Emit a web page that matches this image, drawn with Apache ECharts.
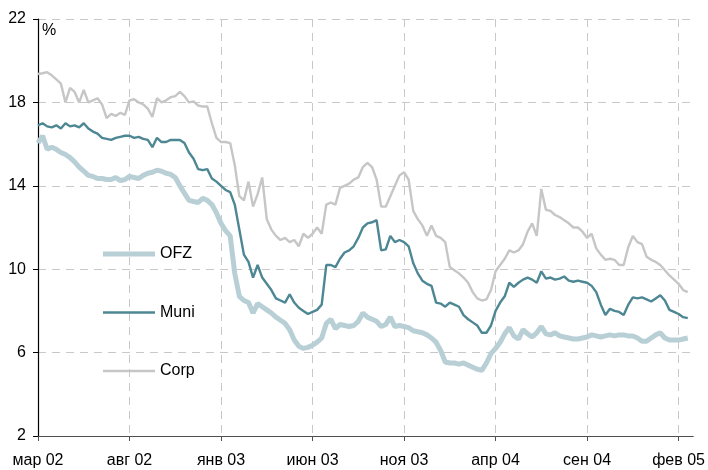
<!DOCTYPE html>
<html>
<head>
<meta charset="utf-8">
<script src="https://cdn.jsdelivr.net/npm/echarts@6/dist/echarts.min.js"></script>
<style>
  html, body { margin: 0; padding: 0; background: #fff; }
  #chart { width: 708px; height: 470px; }
</style>
</head>
<body>
<div id="chart"></div>
<script>
// месяцы от мар 02, шаг 0.25 месяца
const step = 0.25;
const monthLabels = ["мар 02", "авг 02", "янв 03", "июн 03", "ноя 03", "апр 04", "сен 04", "фев 05"];

const ofz = [
  16.05, 16.4, 15.75, 15.85, 15.75, 15.6, 15.5, 15.35, 15.15, 14.9,
  14.7, 14.5, 14.45, 14.35, 14.35, 14.3, 14.3, 14.4, 14.25, 14.3,
  14.45, 14.4, 14.35, 14.5, 14.6, 14.65, 14.75, 14.7, 14.6, 14.55,
  14.4, 14.0, 13.65, 13.3, 13.25, 13.2, 13.4, 13.3, 13.1, 12.7,
  12.2, 11.85, 11.6, 9.8, 8.7, 8.5, 8.4, 7.9, 8.35, 8.2,
  8.05, 7.9, 7.7, 7.55, 7.4, 7.1, 6.6, 6.3, 6.2, 6.25,
  6.35, 6.5, 6.7, 7.4, 7.6, 7.15, 7.35, 7.3, 7.25, 7.3,
  7.5, 7.9, 7.7, 7.6, 7.5, 7.25, 7.35, 7.7, 7.25, 7.3,
  7.25, 7.2, 7.05, 7.0, 6.95, 6.85, 6.7, 6.5, 6.1, 5.55,
  5.5, 5.5, 5.45, 5.5, 5.4, 5.3, 5.2, 5.15, 5.5, 5.95,
  6.2, 6.5, 6.9, 7.2, 6.8, 6.65, 7.1, 6.9, 6.75, 6.95,
  7.25, 6.9, 6.85, 6.95, 6.8, 6.75, 6.7, 6.65, 6.65, 6.7,
  6.75, 6.85, 6.8, 6.75, 6.8, 6.85, 6.8, 6.85, 6.85, 6.8,
  6.8, 6.7, 6.55, 6.55, 6.7, 6.85, 6.95, 6.7, 6.6, 6.6,
  6.6, 6.65, 6.7
];

const muni = [
  16.9, 17.0, 16.85, 16.8, 16.9, 16.75, 17.0, 16.85, 16.9, 16.8,
  17.0, 16.75, 16.6, 16.5, 16.3, 16.25, 16.2, 16.3, 16.35, 16.4,
  16.4, 16.3, 16.35, 16.25, 16.2, 15.85, 16.3, 16.1, 16.1, 16.2,
  16.2, 16.2, 16.05, 15.6, 15.3, 14.8, 14.75, 14.8, 14.35, 14.2,
  14.0, 13.8, 13.7, 13.1, 11.9, 10.7, 10.35, 9.6, 10.2, 9.6,
  9.3, 9.0, 8.6, 8.5, 8.4, 8.8, 8.4, 8.15, 8.0, 7.85,
  7.95, 8.05, 8.3, 10.2, 10.2, 10.1, 10.5, 10.8, 10.9, 11.1,
  11.5, 12.0, 12.2, 12.25, 12.35, 10.9, 10.95, 11.6, 11.3, 11.4,
  11.3, 11.1, 10.3, 9.8, 9.45, 9.3, 9.2, 8.4, 8.35, 8.2,
  8.4, 8.3, 8.2, 7.8, 7.6, 7.45, 7.3, 6.95, 6.95, 7.3,
  8.0, 8.4, 8.7, 9.35, 9.15, 9.35, 9.5, 9.6, 9.5, 9.35,
  9.9, 9.55, 9.6, 9.5, 9.55, 9.65, 9.45, 9.4, 9.45, 9.4,
  9.35, 9.2, 8.9, 8.3, 7.8, 8.1, 8.0, 7.95, 7.8, 8.3,
  8.65, 8.6, 8.65, 8.55, 8.45, 8.6, 8.75, 8.5, 8.05, 7.95,
  7.85, 7.7, 7.65
];

const corp = [
  19.36, 19.4, 19.45, 19.3, 19.1, 18.9, 18.0, 18.7, 18.5, 18.0,
  18.6, 18.0, 18.1, 18.2, 17.9, 17.25, 17.45, 17.35, 17.5, 17.4,
  18.1, 18.15, 18.0, 17.9, 17.7, 17.3, 18.2, 18.0, 18.1, 18.25,
  18.3, 18.5, 18.3, 18.0, 18.05, 17.85, 17.8, 17.8, 17.0, 16.3,
  16.1, 16.1, 16.05, 15.0, 13.5, 13.3, 14.2, 13.0, 13.6, 14.4,
  12.4, 11.9, 11.6, 11.4, 11.5, 11.3, 11.4, 11.1, 11.7, 11.5,
  11.7, 12.0, 11.7, 13.1, 13.2, 13.1, 13.9, 14.0, 14.1, 14.3,
  14.4, 14.9, 15.1, 14.9, 14.3, 13.0, 13.0, 13.5, 14.0, 14.5,
  14.65, 14.3, 12.8, 12.4, 12.1, 11.6, 12.1, 11.6, 11.5, 11.3,
  10.1, 9.95, 9.8, 9.6, 9.35, 8.9, 8.6, 8.5, 8.55, 9.0,
  9.9, 10.2, 10.5, 10.9, 10.8, 10.9, 11.2, 11.8, 12.2, 11.6,
  13.85, 12.85, 12.8, 12.6, 12.5, 12.35, 12.2, 12.0, 12.0, 11.8,
  11.5, 11.7, 11.0, 10.7, 10.45, 10.5, 10.45, 10.2, 10.2, 11.05,
  11.6, 11.3, 11.2, 10.6, 10.45, 10.35, 10.2, 9.95, 9.7, 9.5,
  9.3, 9.0, 8.9
];

function toPoints(values) {
  return values.map((v, i) => [i * step, v]);
}

const font = "Liberation Sans, Arial, sans-serif";
const chart = echarts.init(document.getElementById("chart"), null, { renderer: "canvas" });

const option = {
  animation: false,
  backgroundColor: "#ffffff",
  textStyle: { fontFamily: font },
  grid: { left: 38, right: 13, top: 19, bottom: 34, containLabel: false },
  legend: {
    orient: "vertical",
    left: 103,
    top: 246,
    padding: 0,
    itemWidth: 52,
    itemHeight: 18,
    itemGap: 42.5,
    textStyle: { fontSize: 16, color: "#000" },
    data: [
      { name: "OFZ", icon: "path://M0,0H52V5H0Z" },
      { name: "Muni", icon: "path://M0,0H52V2.4H0Z" },
      { name: "Corp", icon: "path://M0,0H52V2.4H0Z" },
    ],
  },
  graphic: [
    {
      type: "text",
      left: 42,
      top: 23,
      style: { text: "%", fontSize: 16, fill: "#000", fontFamily: font },
    },
  ],
  xAxis: {
    type: "value",
    min: 0,
    max: 35.8,
    interval: 5,
    axisLine: { show: true, onZero: false, lineStyle: { color: "#505050", width: 1.2 } },
    axisTick: { show: true, length: 5, lineStyle: { color: "#505050" } },
    axisLabel: {
      fontSize: 16,
      color: "#000",
      margin: 17,
      showMaxLabel: false,
      formatter(value) {
        const k = Math.round(value / 5);
        return Math.abs(value - k * 5) < 1e-6 ? monthLabels[k] || "" : "";
      },
    },
    splitLine: {
      show: true,
      showMinLine: false,
      showMaxLine: false,
      lineStyle: { color: "#c8c8c8", type: [8, 6], width: 1 },
    },
  },
  yAxis: {
    type: "value",
    min: 2,
    max: 22,
    interval: 4,
    axisLine: { show: true, lineStyle: { color: "#000", width: 1.2 } },
    axisTick: { show: true, length: 5, inside: false, lineStyle: { color: "#000" } },
    axisLabel: { fontSize: 16, color: "#000", margin: 12 },
    splitLine: {
      show: true,
      showMinLine: false,
      lineStyle: { color: "#c8c8c8", type: [8, 6], width: 1 },
    },
  },
  series: [
    {
      name: "Corp",
      type: "line",
      data: toPoints(corp),
      symbol: "none",
      lineStyle: { color: "#c6c6c6", width: 2.4 },
      itemStyle: { color: "#c6c6c6" },
    },
    {
      name: "Muni",
      type: "line",
      data: toPoints(muni),
      symbol: "none",
      lineStyle: { color: "#4d8794", width: 2.4 },
      itemStyle: { color: "#4d8794" },
    },
    {
      name: "OFZ",
      type: "line",
      data: toPoints(ofz),
      symbol: "none",
      lineStyle: { color: "#b8cfd6", width: 5 },
      itemStyle: { color: "#b8cfd6" },
    },
  ],
};

chart.setOption(option);
</script>
</body>
</html>
